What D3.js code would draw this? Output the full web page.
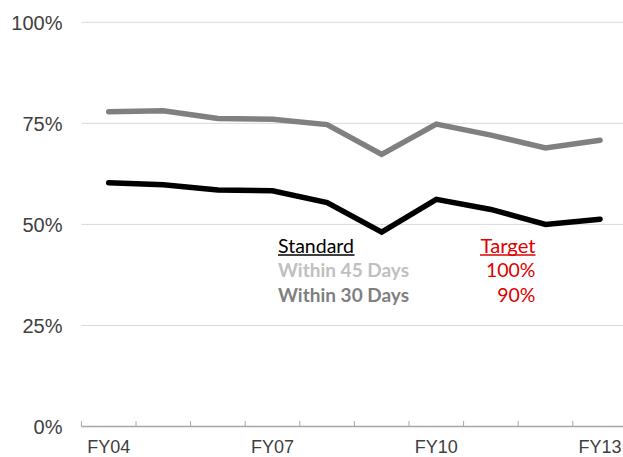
<!DOCTYPE html>
<html>
<head>
<meta charset="utf-8">
<script src="https://cdn.jsdelivr.net/npm/d3@7"></script>
<style>
  html, body { margin: 0; padding: 0; background: #fff; }
  svg { display: block; }
</style>
</head>
<body>
<svg id="chart" width="623" height="457"></svg>
<script>
const categories = ["FY04","FY05","FY06","FY07","FY08","FY09","FY10","FY11","FY12","FY13"];
const within45 = [77.9, 78.1, 76.2, 76.0, 74.7, 67.3, 74.8, 72.1, 68.9, 70.8];
const within30 = [60.3, 59.8, 58.5, 58.3, 55.4, 48.1, 56.2, 53.7, 50.0, 51.3];
const yTicks = [0, 25, 50, 75, 100];
const xLabels = ["FY04","FY07","FY10","FY13"];
const legendRows = [
  {label: "Within 45 Days", target: "100%", color: "#c0c0c0"},
  {label: "Within 30 Days", target: "90%", color: "#808080"}
];

(function () {
const svg = d3.select("#chart");
const mLeft = 81.4, mRight = 627.4, mTop = 22.3, mBottom = 426.5;

const x = d3.scaleBand().domain(categories).range([mLeft, mRight]);
const y = d3.scaleLinear().domain([0, 100]).range([mBottom, mTop]);

// gridlines
svg.append("g").selectAll("line").data(yTicks.filter(d => d > 0)).join("line")
  .attr("x1", mLeft).attr("x2", 623)
  .attr("y1", d => y(d)).attr("y2", d => y(d))
  .attr("stroke", "#d9d9d9").attr("stroke-width", 1);

// y labels
svg.append("g").selectAll("text").data(yTicks).join("text")
  .attr("x", 62.5).attr("y", d => y(d))
  .attr("dy", "0.36em")
  .attr("text-anchor", "end")
  .attr("font-family", "Liberation Sans, Arial, sans-serif")
  .attr("font-size", 20)
  .attr("fill", "#404040")
  .text(d => d + "%");

// x axis line and inner ticks
svg.append("line")
  .attr("x1", mLeft).attr("x2", 623)
  .attr("y1", mBottom).attr("y2", mBottom)
  .attr("stroke", "#a6a6a6").attr("stroke-width", 1.3);
svg.append("g").selectAll("line").data(categories).join("line")
  .attr("x1", d => x(d)).attr("x2", d => x(d))
  .attr("y1", mBottom).attr("y2", mBottom - 5.5)
  .attr("stroke", "#a6a6a6").attr("stroke-width", 1);

// x labels
svg.append("g").selectAll("text").data(xLabels).join("text")
  .attr("x", d => x(d) + x.bandwidth() / 2)
  .attr("y", 452.5)
  .attr("text-anchor", "middle")
  .attr("font-family", "Liberation Sans, Arial, sans-serif")
  .attr("font-size", 18)
  .attr("fill", "#404040")
  .text(d => d);

const line = d3.line()
  .x((d, i) => x(categories[i]) + x.bandwidth() / 2)
  .y(d => y(d));

svg.append("path").datum(within45)
  .attr("d", line).attr("fill", "none")
  .attr("stroke", "#808080").attr("stroke-width", 5.5)
  .attr("stroke-linecap", "round");

svg.append("path").datum(within30)
  .attr("d", line).attr("fill", "none")
  .attr("stroke", "#000").attr("stroke-width", 5.5)
  .attr("stroke-linecap", "round");

// legend / standard-target table
const lf = "Lato, 'Open Sans', sans-serif";
const lx = 278, rx = 535.5;
const g = svg.append("g");
g.append("text").attr("x", lx).attr("y", 252.5)
  .attr("font-family", lf).attr("font-size", 19.5).attr("fill", "#000")
  .attr("textLength", 76).attr("lengthAdjust", "spacingAndGlyphs")
  .text("Standard");
g.append("line").attr("x1", lx).attr("x2", lx + 76.5)
  .attr("y1", 255).attr("y2", 255).attr("stroke", "#000").attr("stroke-width", 1.6);
g.append("text").attr("x", rx).attr("y", 252.5)
  .attr("text-anchor", "end")
  .attr("font-family", lf).attr("font-size", 19.5).attr("fill", "#e00000")
  .attr("textLength", 55).attr("lengthAdjust", "spacingAndGlyphs")
  .text("Target");
g.append("line").attr("x1", rx - 55.5).attr("x2", rx)
  .attr("y1", 255).attr("y2", 255).attr("stroke", "#e00000").attr("stroke-width", 1.6);

legendRows.forEach((r, i) => {
  const yy = 277 + i * 25;
  g.append("text").attr("x", lx).attr("y", yy)
    .attr("font-family", lf).attr("font-size", 19).attr("font-weight", "bold")
    .attr("fill", r.color)
    .attr("textLength", 131).attr("lengthAdjust", "spacingAndGlyphs")
    .text(r.label);
  g.append("text").attr("x", rx).attr("y", yy)
    .attr("text-anchor", "end")
    .attr("font-family", lf).attr("font-size", 19.5).attr("fill", "#e00000")
    .text(r.target);
});
})();
</script>
</body>
</html>
